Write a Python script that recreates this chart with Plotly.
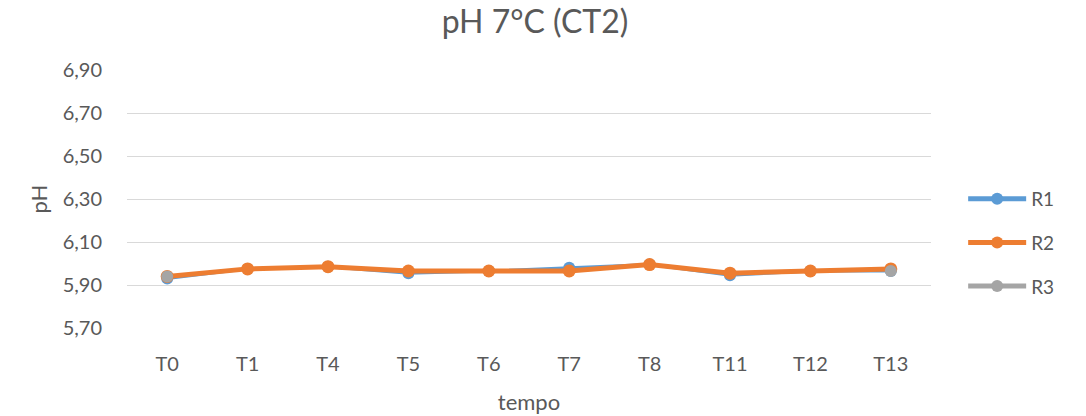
import plotly.graph_objects as go

categories = ["T0", "T1", "T4", "T5", "T6", "T7", "T8", "T11", "T12", "T13"]
r1 = [5.93, 5.975, 5.985, 5.955, 5.965, 5.98, 5.995, 5.945, 5.965, 5.965]
r2 = [5.94, 5.975, 5.985, 5.965, 5.965, 5.965, 5.995, 5.955, 5.965, 5.975]
r3 = [5.94, None, None, None, None, None, None, None, None, 5.965]
y_ticks = [5.70, 5.90, 6.10, 6.30, 6.50, 6.70, 6.90]
y_tick_text = ["5,70", "5,90", "6,10", "6,30", "6,50", "6,70", "6,90"]

FONT = "Lato"
GREY = "#595959"
fig = go.Figure()
fig.add_trace(go.Scatter(x=categories, y=r1, name="R1", mode="lines+markers", legendgroup="a",
                         line=dict(color="#5b9bd5", width=3),
                         marker=dict(size=12, color="#5b9bd5")))
fig.add_trace(go.Scatter(x=categories, y=r2, name="R2", mode="lines+markers", legendgroup="b",
                         line=dict(color="#ed7d31", width=5),
                         marker=dict(size=13, color="#ed7d31")))
fig.add_trace(go.Scatter(x=categories, y=r3, name="R3", mode="lines+markers", legendgroup="c",
                         line=dict(color="#a5a5a5", width=3),
                         marker=dict(size=12, color="#a5a5a5")))

fig.update_layout(
    width=1086, height=416,
    margin=dict(l=127, r=155, t=70, b=88, autoexpand=False),
    paper_bgcolor="white", plot_bgcolor="white",
    font=dict(family=FONT, color=GREY, size=20),
    title=dict(text="pH 7°C (CT2)", x=535/1086, xanchor="center", y=1 - 22/416, yanchor="middle",
               font=dict(size=32, color=GREY, family=FONT)),
    legend=dict(x=1.04, y=0.33, xanchor="left", yanchor="middle",
                font=dict(size=19, color=GREY), tracegroupgap=16,
                itemsizing="constant", itemwidth=58),
    showlegend=True,
)
fig.update_xaxes(type="category", range=[-0.5, 9.5], showgrid=False, zeroline=False,
                 showline=False, ticks="", ticklabelstandoff=22, automargin=False,
                 tickfont=dict(size=20, color=GREY),
                 title=dict(text="tempo", font=dict(size=22, color=GREY), standoff=20))
fig.update_yaxes(range=[5.70, 6.90], tickvals=y_ticks, ticktext=y_tick_text,
                 showgrid=True, gridcolor="#d9d9d9", gridwidth=1, zeroline=False,
                 showline=False, ticks="", ticklabelstandoff=24, automargin=False,
                 tickfont=dict(size=20, color=GREY),
                 title=dict(text="pH", font=dict(size=22, color=GREY), standoff=8))

fig.write_html("out.html")
